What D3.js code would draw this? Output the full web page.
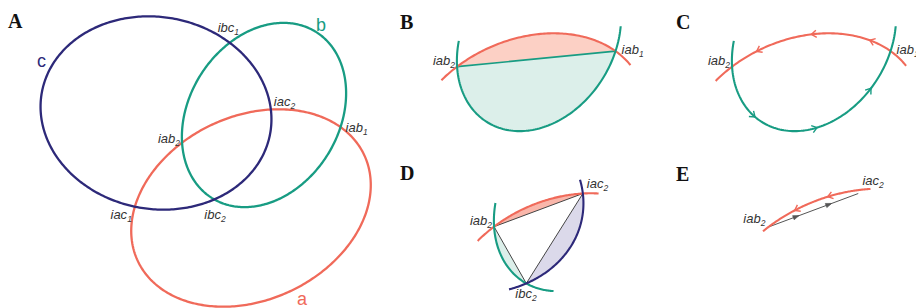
<!DOCTYPE html>
<html>
<head>
<meta charset="utf-8">
<script src="https://cdn.jsdelivr.net/npm/d3@7"></script>
<style>
  body { margin: 0; background: #fff; }
  text { font-family: "Liberation Sans", Arial, sans-serif; }
  .panel { font-family: "Liberation Serif", "Times New Roman", serif; font-weight: bold; font-size: 20px; fill: #111; }
  .pt { font-style: italic; font-size: 13px; fill: #333; }
  .name { font-size: 18px; }
</style>
</head>
<body>
<svg id="fig" width="916" height="308"></svg>
<script>
// three ellipses, measured in panel A pixels
const names   = ['a', 'b', 'c'];
const centerX = [251, 264, 156];
const centerY = [208, 115, 113];
const radiusX = [125, 75, 116];
const radiusY = [92, 98, 96];
const tilt    = [-25, 32, 10];   // degrees

const colours = { a: '#f06a5a', b: '#189c83', c: '#2d2979' };
const tints   = { a: '#fcd0c5', b: '#dcefea', c: '#dbd9ea' };
const chordGrey = '#444';

const svg = d3.select('#fig');
const rad = Math.PI / 180;

const E = {};
names.forEach((n, i) => {
    E[n] = { cx: centerX[i], cy: centerY[i], rx: radiusX[i], ry: radiusY[i], r: tilt[i] * rad };
});

// ellipse helpers
function onEllipse(e, t) {
    const x = e.rx * Math.cos(t), y = e.ry * Math.sin(t);
    return [e.cx + x * Math.cos(e.r) - y * Math.sin(e.r), e.cy + x * Math.sin(e.r) + y * Math.cos(e.r)];
}
function toLocal(e, p) {
    const dx = p[0] - e.cx, dy = p[1] - e.cy;
    return [(dx * Math.cos(e.r) + dy * Math.sin(e.r)) / e.rx, (-dx * Math.sin(e.r) + dy * Math.cos(e.r)) / e.ry];
}
function level(e, p) { const l = toLocal(e, p); return l[0] * l[0] + l[1] * l[1] - 1; }
function paramOf(e, p) { const l = toLocal(e, p); return Math.atan2(l[1], l[0]); }
function speed(e, t) { return Math.hypot(e.rx * Math.sin(t), e.ry * Math.cos(t)); }

function intersect(e1, e2) {
    const out = [], N = 3600;
    for (let i = 0; i < N; i++) {
        let t0 = i / N * 2 * Math.PI, t1 = (i + 1) / N * 2 * Math.PI;
        let v0 = level(e2, onEllipse(e1, t0));
        const v1 = level(e2, onEllipse(e1, t1));
        if (v0 * v1 > 0) continue;
        for (let k = 0; k < 40; k++) {
            const tm = (t0 + t1) / 2, vm = level(e2, onEllipse(e1, tm));
            if (v0 * vm <= 0) { t1 = tm; } else { t0 = tm; v0 = vm; }
        }
        out.push(onEllipse(e1, (t0 + t1) / 2));
    }
    return out;
}

// intersection points, named as in the figure
const P = {};
const ab = intersect(E.a, E.b).sort((p, q) => q[0] - p[0]);
P.iab1 = ab[0]; P.iab2 = ab[1];
const ac = intersect(E.a, E.c).sort((p, q) => p[0] - q[0]);
P.iac1 = ac[0]; P.iac2 = ac[1];
const bc = intersect(E.b, E.c).sort((p, q) => p[1] - q[1]);
P.ibc1 = bc[0]; P.ibc2 = bc[1];

function arcSpan(e, from, to, dir) {
    const t0 = paramOf(e, P[from]);
    let t1 = paramOf(e, P[to]);
    if (dir > 0) { while (t1 < t0) t1 += 2 * Math.PI; }
    else { while (t1 > t0) t1 -= 2 * Math.PI; }
    return [t0, t1];
}
function arcPoints(e, from, to, dir, ext) {
    ext = ext || [0, 0];
    let [t0, t1] = arcSpan(e, from, to, dir);
    t0 -= dir * ext[0] / speed(e, t0);
    t1 += dir * ext[1] / speed(e, t1);
    return d3.range(121).map(i => onEllipse(e, t0 + (t1 - t0) * i / 120));
}

// panel layout: where each copy of the geometry is drawn
const panels = [
    { key: 'A', ox: 0, oy: 0, s: 1, lx: 8, ly: 28 },
    { key: 'B', ox: 275, oy: -76, s: 1, lx: 400, ly: 29,
      fills: [{ e: 'a', from: 'iab2', to: 'iab1', dir: 1 }, { e: 'b', from: 'iab2', to: 'iab1', dir: -1 }],
      chords: [{ from: 'iab2', to: 'iab1', colour: colours.b, w: 1.6 }],
      arcs: [{ e: 'a', from: 'iab2', to: 'iab1', dir: 1, ext: [21, 21] },
             { e: 'b', from: 'iab2', to: 'iab1', dir: -1, ext: [25, 26] }],
      labels: [{ p: 'iab2', dx: -2, dy: -2, anchor: 'end' }, { p: 'iab1', dx: 6, dy: 3, anchor: 'start' }] },
    { key: 'C', ox: 550, oy: -76, s: 1, lx: 676, ly: 29,
      arcs: [{ e: 'a', from: 'iab1', to: 'iab2', dir: -1, ext: [22, 22], arrows: [0.16, 0.52, 0.84] },
             { e: 'b', from: 'iab2', to: 'iab1', dir: -1, ext: [25, 26], arrows: [0.26, 0.57, 0.84] }],
      labels: [{ p: 'iab2', dx: -2, dy: -2, anchor: 'end' }, { p: 'iab1', dx: 6, dy: 3, anchor: 'start' }] },
    { key: 'D', ox: 312, oy: 84, s: 1, lx: 400, ly: 180,
      fills: [{ e: 'a', from: 'iab2', to: 'iac2', dir: 1, tint: '#f9b6aa' }, { e: 'b', from: 'iab2', to: 'ibc2', dir: -1 },
              { e: 'c', from: 'ibc2', to: 'iac2', dir: -1 }],
      chords: [{ from: 'iab2', to: 'iac2', colour: chordGrey, w: 1 }, { from: 'iab2', to: 'ibc2', colour: chordGrey, w: 1 },
               { from: 'ibc2', to: 'iac2', colour: chordGrey, w: 1 }],
      arcs: [{ e: 'a', from: 'iab2', to: 'iac2', dir: 1, ext: [22, 16] },
             { e: 'b', from: 'iab2', to: 'ibc2', dir: -1, ext: [23, 28] },
             { e: 'c', from: 'ibc2', to: 'iac2', dir: -1, ext: [18, 14] }],
      labels: [{ p: 'iab2', dx: -2, dy: -2, anchor: 'end' }, { p: 'iac2', dx: 4, dy: -6, anchor: 'start' },
               { p: 'ibc2', dx: -11, dy: 15, anchor: 'start' }] },
    { key: 'E', ox: 559, oy: 63, s: 1.15, lx: 676, ly: 181,
      chords: [{ from: 'iab2', to: 'iac2', colour: '#555', w: 1, upto: 0.88, arrows: [0.3, 0.62] }],
      arcs: [{ e: 'a', from: 'iac2', to: 'iab2', dir: -1, ext: [0, 6], arrows: [0.4, 0.72] }],
      labels: [{ p: 'iab2', dx: -3, dy: -4, anchor: 'end' }, { p: 'iac2', dx: -8, dy: -4, anchor: 'start' }] }
];

// ellipse name labels in panel A
const nameAt = { a: [297, 305], b: [316, 31], c: [37, 67] };

// A-panel point labels
const labelsA = [
    { p: 'ibc1', dx: -12, dy: -11, anchor: 'start' },
    { p: 'iac2', dx: 3, dy: -4, anchor: 'start' },
    { p: 'iab1', dx: 5, dy: 5, anchor: 'start' },
    { p: 'iab2', dx: -2, dy: 0, anchor: 'end' },
    { p: 'iac1', dx: -3, dy: 12, anchor: 'end' },
    { p: 'ibc2', dx: -10, dy: 20, anchor: 'start' }
];
panels[0].labels = labelsA;

function pointLabel(g, x, y, name, anchor) {
    const t = g.append('text').attr('class', 'pt').attr('x', x).attr('y', y).attr('text-anchor', anchor);
    t.append('tspan').text(name.slice(0, 3));
    t.append('tspan').attr('font-size', 8.5).attr('dy', 3).text(name.slice(3));
}

function arrowAt(g, pts, colour, filled) {
    // pts: [point, next point] gives position + heading
    const a = Math.atan2(pts[1][1] - pts[0][1], pts[1][0] - pts[0][0]) / rad;
    g.append('path')
        .attr('transform', `translate(${pts[0][0]},${pts[0][1]}) rotate(${a})`)
        .attr('d', filled ? 'M-6,-2.2L0,0L-6,2.2Z' : 'M-5,-3.6L0,0L-5,3.6')
        .attr('fill', filled ? colour : 'none')
        .attr('stroke', colour)
        .attr('stroke-width', filled ? 0.6 : 1.4)
        .attr('stroke-linejoin', 'miter');
}

panels.forEach(pn => {
    const x = d3.scaleLinear().domain([0, 1]).range([pn.ox, pn.ox + pn.s]);
    const y = d3.scaleLinear().domain([0, 1]).range([pn.oy, pn.oy + pn.s]);
    const line = d3.line().x(d => x(d[0])).y(d => y(d[1]));
    const g = svg.append('g').attr('class', 'panel-' + pn.key);

    if (pn.key === 'A') {
        names.forEach(n => {
            const e = E[n];
            const pts = d3.range(360).map(i => onEllipse(e, i * rad));
            g.append('path').attr('d', line.curve(d3.curveLinearClosed)(pts))
                .attr('fill', 'none').attr('stroke', colours[n]).attr('stroke-width', 2.3);
            line.curve(d3.curveLinear);
            g.append('text').attr('class', 'name').attr('x', nameAt[n][0]).attr('y', nameAt[n][1])
                .attr('fill', colours[n]).text(n);
        });
    }

    (pn.fills || []).forEach(f => {
        const pts = arcPoints(E[f.e], f.from, f.to, f.dir);
        g.append('path').attr('d', line(pts) + 'Z').attr('fill', f.tint || tints[f.e]).attr('stroke', 'none');
    });

    (pn.chords || []).forEach(c => {
        const p0 = P[c.from], p1full = P[c.to], k = c.upto || 1;
        const p1 = [p0[0] + (p1full[0] - p0[0]) * k, p0[1] + (p1full[1] - p0[1]) * k];
        g.append('line')
            .attr('x1', x(p0[0])).attr('y1', y(p0[1])).attr('x2', x(p1[0])).attr('y2', y(p1[1]))
            .attr('stroke', c.colour).attr('stroke-width', c.w);
        (c.arrows || []).forEach(f => {
            const q = [p0[0] + (p1full[0] - p0[0]) * f, p0[1] + (p1full[1] - p0[1]) * f];
            const q2 = [q[0] + (p1full[0] - p0[0]) * 0.01, q[1] + (p1full[1] - p0[1]) * 0.01];
            arrowAt(g, [[x(q[0]), y(q[1])], [x(q2[0]), y(q2[1])]], c.colour, true);
        });
    });

    (pn.arcs || []).forEach(a => {
        const e = E[a.e];
        g.append('path').attr('d', line(arcPoints(e, a.from, a.to, a.dir, a.ext)))
            .attr('fill', 'none').attr('stroke', colours[a.e]).attr('stroke-width', 2.1);
        const [t0, t1] = arcSpan(e, a.from, a.to, a.dir);
        (a.arrows || []).forEach(f => {
            const t = t0 + (t1 - t0) * f;
            const p = onEllipse(e, t), p2 = onEllipse(e, t + a.dir * 0.01);
            arrowAt(g, [[x(p[0]), y(p[1])], [x(p2[0]), y(p2[1])]], colours[a.e], false);
        });
    });

    (pn.labels || []).forEach(l => {
        pointLabel(g, x(P[l.p][0]) + l.dx, y(P[l.p][1]) + l.dy, l.p, l.anchor);
    });

    g.append('text').attr('class', 'panel').attr('x', pn.lx).attr('y', pn.ly).text(pn.key);
});
</script>
</body>
</html>
